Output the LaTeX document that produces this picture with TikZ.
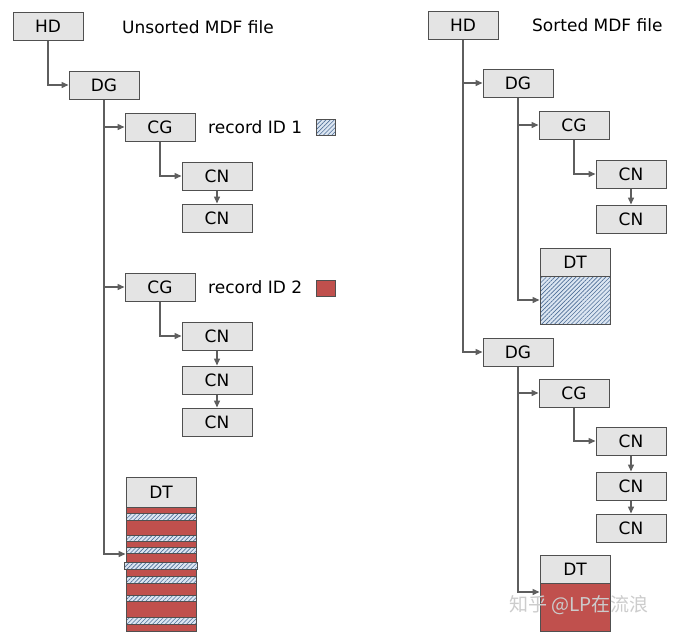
\documentclass[tikz,border=0pt]{standalone}
\usepackage{fontspec}
\setmainfont{DejaVu Sans}
\newfontfamily\cjkfont{Noto Sans CJK SC}
\usetikzlibrary{arrows.meta,patterns.meta}

\definecolor{boxfill}{HTML}{E4E4E4}
\definecolor{boxline}{HTML}{505050}
\definecolor{linkgray}{HTML}{5E5E5E}
\definecolor{recred}{HTML}{C0504D}
\definecolor{hatchbg}{HTML}{DCE6F2}
\definecolor{hatchline}{HTML}{4F6F98}

\tikzset{
  mdfbox/.style={draw=boxline, fill=boxfill, line width=1pt, minimum width=70pt,
    minimum height=28pt, inner sep=0pt, font=\fontsize{17}{17}\selectfont},
  link/.style={draw=linkgray, line width=1.4pt, -{Triangle[length=7pt,width=6pt]}},
  hatched/.style={preaction={fill=hatchbg},
    pattern={Lines[angle=45,distance=3pt,line width=0.6pt]}, pattern color=hatchline},
  caption/.style={anchor=west, inner sep=0pt, font=\fontsize{17}{17}\selectfont},
}

\begin{document}
\begin{tikzpicture}[x=1pt, y=-1pt]
    \useasboundingbox[fill=white] (0,0) rectangle (673,641);

    % Unsorted file
    \node[mdfbox] (hdL) at (48,26) {HD};
    \node[caption] (titleL) at (122,27) {Unsorted MDF file};
    \node[mdfbox] (dgL) at (104,85) {DG};
    \node[mdfbox] (cgL1) at (160,127) {CG};
    \node[caption] (recL1) at (208,127) {record ID 1};
    \node[draw=boxline, hatched, minimum width=19pt, minimum height=16pt, inner sep=0pt] (keyL1) at (326,127) {};
    \node[mdfbox] (cnL1) at (217,176) {CN};
    \node[mdfbox] (cnL2) at (217,218) {CN};
    \node[mdfbox] (cgL2) at (160,287) {CG};
    \node[caption] (recL2) at (208,287) {record ID 2};
    \node[draw=boxline, fill=recred, minimum width=19pt, minimum height=16pt, inner sep=0pt] (keyL2) at (326,288) {};
    \node[mdfbox] (cnL3) at (217,336) {CN};
    \node[mdfbox] (cnL4) at (217,380) {CN};
    \node[mdfbox] (cnL5) at (217,422) {CN};
    \node[mdfbox, minimum height=30pt] (dtL) at (161,492) {DT};
    \node[draw=boxline, fill=recred, line width=1pt, minimum width=70pt, minimum height=124pt] (dtLbody) at (161,569) {};

    % mixed records in the data block
    \foreach \top/\bot/\lft/\rgt in {513/520/126/196, 535/541/126/196, 547/553/126/196,
        562/569/124/197, 576/583/126/196, 595/601/126/196, 617/624/126/196}
        \draw[boxline, line width=0.6pt, hatched] (\lft,\top) rectangle (\rgt,\bot);

    \draw[link] (hdL.south) |- (dgL.west);
    \draw[link] (dgL.south) |- (cgL1.west);
    \draw[link] (dgL.south) |- (cgL2.west);
    \draw[link] (dgL.south) |- ([yshift=15pt]dtLbody.west);
    \draw[link] (cgL1.south) |- (cnL1.west);
    \draw[link] (cnL1.south) -- (cnL2.north);
    \draw[link] (cgL2.south) |- (cnL3.west);
    \draw[link] (cnL3.south) -- (cnL4.north);
    \draw[link] (cnL4.south) -- (cnL5.north);

    % Sorted file
    \node[mdfbox] (hdR) at (463,25) {HD};
    \node[caption] (titleR) at (532,25) {Sorted MDF file};
    \node[mdfbox] (dgR1) at (518,83) {DG};
    \node[mdfbox] (cgR1) at (574,125) {CG};
    \node[mdfbox] (cnR1) at (631,174) {CN};
    \node[mdfbox] (cnR2) at (631,219) {CN};
    \node[mdfbox] (dtR1) at (575,262) {DT};
    \node[draw=boxline, line width=1pt, hatched, minimum width=70pt, minimum height=48pt] (dtR1body) at (575,300) {};
    \node[mdfbox] (dgR2) at (518,352) {DG};
    \node[mdfbox] (cgR2) at (574,393) {CG};
    \node[mdfbox] (cnR3) at (631,441) {CN};
    \node[mdfbox] (cnR4) at (631,486) {CN};
    \node[mdfbox] (cnR5) at (631,528) {CN};
    \node[mdfbox] (dtR2) at (575,569) {DT};
    \node[draw=boxline, fill=recred, line width=1pt, minimum width=70pt, minimum height=48pt] (dtR2body) at (575,607) {};

    \draw[link] (hdR.south) |- (dgR1.west);
    \draw[link] (hdR.south) |- (dgR2.west);
    \draw[link] (dgR1.south) |- (cgR1.west);
    \draw[link] (dgR1.south) |- (dtR1body.west);
    \draw[link] (cgR1.south) |- (cnR1.west);
    \draw[link] (cnR1.south) -- (cnR2.north);
    \draw[link] (dgR2.south) |- (cgR2.west);
    \draw[link] (dgR2.south) |- ([yshift=15pt]dtR2body.west);
    \draw[link] (cgR2.south) |- (cnR3.west);
    \draw[link] (cnR3.south) -- (cnR4.north);
    \draw[link] (cnR4.south) -- (cnR5.north);

    % watermark
    \node[text=white!80!black, font=\cjkfont\fontsize{19}{19}\selectfont] (mark) at (579,605) {知乎 @LP在流浪};
\end{tikzpicture}
\end{document}
